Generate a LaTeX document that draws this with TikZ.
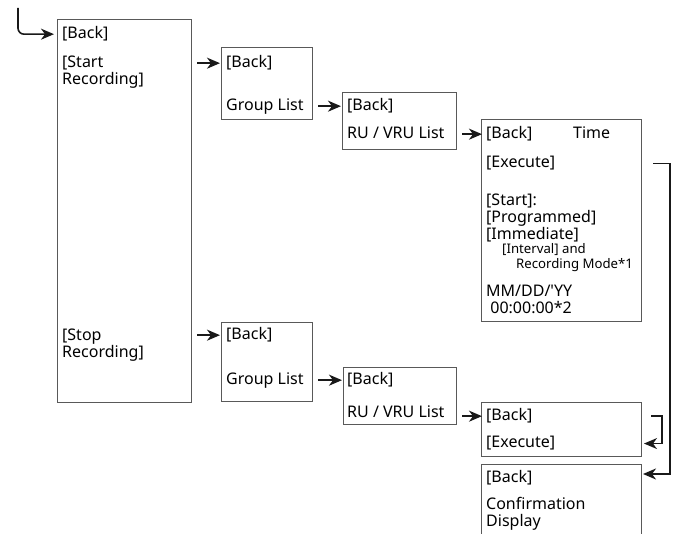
\documentclass[tikz,border=0pt]{standalone}
\usepackage{fontspec}
\setmainfont{Noto Sans}
\usepackage{xcolor}
\usetikzlibrary{positioning, arrows.meta}

\tikzset{
    box/.style={draw=black!65, line width=1pt, anchor=north west, inner sep=0pt},
    txt/.style={anchor=base west, inner sep=0pt, align=left, font=\fontsize{16}{17}\selectfont},
    small/.style={txt, font=\fontsize{13.2}{14}\selectfont},
    arr/.style={draw=black!90, line width=1.6pt, -{Stealth[length=13pt, width=11pt, inset=4pt]}}
}

\begin{document}
\begin{tikzpicture}[x=1pt, y=-1pt]
        \clip (0,0) rectangle (673,534);

        \node[box, minimum width=134pt, minimum height=383pt] (main) at (57,19) {};
        \node[box, minimum width=91pt, minimum height=72pt] (groupA) at (221,47) {};
        \node[box, minimum width=114pt, minimum height=57pt] (ruA) at (342,92) {};
        \node[box, minimum width=160pt, minimum height=202pt] (timeset) at (481,119) {};
        \node[box, minimum width=91pt, minimum height=79pt] (groupB) at (221,322) {};
        \node[box, minimum width=113pt, minimum height=57pt] (ruB) at (343,367) {};
        \node[box, minimum width=160pt, minimum height=54pt] (stopexec) at (481,402) {};
        \node[box, minimum width=160pt, minimum height=90pt] (confirm) at (481,464) {};

        \node[txt] (mainback) at (62,39) {[Back]};
        \node[txt] (startrec) at (62,85) {[Start\\Recording]};
        \node[txt] (stoprec) at (62,358) {[Stop\\Recording]};

        \node[txt] (groupAback) at (226,68) {[Back]};
        \node[txt] (groupAlist) at (226,111) {Group List};
        \node[txt] (ruAback) at (347,111) {[Back]};
        \node[txt] (ruAlist) at (347,139) {RU / VRU List};

        \node[txt] (timeback) at (486,139) {[Back]};
        \node[txt] (timetitle) at (573,139) {Time};
        \node[txt] (timeexec) at (486,168) {[Execute]};
        \node[txt] (timestart) at (486,240) {[Start]:\\{[Programmed]}\\{[Immediate]}};
        \node[small] (interval) at (502,254) {[Interval] and};
        \node[small] (recmode) at (516,269) {Recording Mode*1};
        \node[txt] (datetime) at (486,314) {MM/DD/\textquotesingle YY\\\ 00:00:00*2};

        \node[txt] (groupBback) at (226,340) {[Back]};
        \node[txt] (groupBlist) at (226,385) {Group List};
        \node[txt] (ruBback) at (347,385) {[Back]};
        \node[txt] (ruBlist) at (347,418) {RU / VRU List};

        \node[txt] (stopback) at (486,421) {[Back]};
        \node[txt] (stopexecute) at (486,448) {[Execute]};

        \node[txt] (confback) at (486,483) {[Back]};
        \node[txt] (confdisp) at (486,527) {Confirmation\\Display};

        \coordinate (entry) at (18,8);
        \draw[arr, rounded corners=6pt] (entry) |- ([xshift=-3pt]main.west |- mainback.west);

        \draw[arr] ([xshift=5pt]main.east |- groupAback.west) -- ([xshift=-1pt]groupA.west |- groupAback.west);
        \draw[arr] ([xshift=5pt]groupA.east |- ruAback.west) -- ([xshift=-1pt]ruA.west |- ruAback.west);
        \draw[arr] ([xshift=5pt]ruA.east |- timeback.west) -- ([xshift=1pt]timeset.west |- timeback.west);

        \draw[arr] ([xshift=5pt]main.east |- groupBback.west) -- ([xshift=-1pt]groupB.west |- groupBback.west);
        \draw[arr] ([xshift=5pt]groupB.east |- ruBback.west) -- ([xshift=-1pt]ruB.west |- ruBback.west);
        \draw[arr] ([xshift=5pt]ruB.east |- stopback.west) -- ([xshift=1pt]stopexec.west |- stopback.west);

        \draw[arr] ([xshift=9pt]stopexec.east |- stopback.west) -- ++(11,0) |- ([xshift=2pt]stopexec.east |- stopexecute.west);
        \draw[arr] ([xshift=11pt]timeset.east |- timeexec.west) -- ++(17,0) |- ([xshift=1pt,yshift=-10pt]confirm.north east);
    \end{tikzpicture}
\end{document}
